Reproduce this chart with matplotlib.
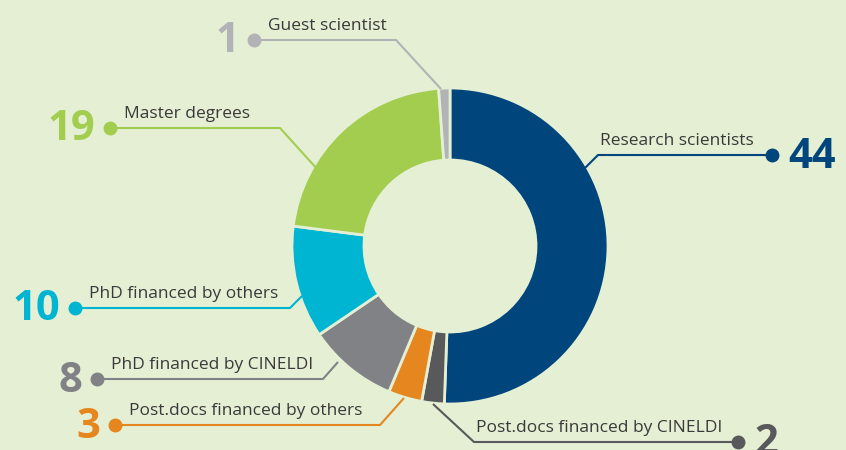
import matplotlib.pyplot as plt

categories = ["Research scientists", "Post.docs financed by CINELDI",
              "Post.docs financed by others", "PhD financed by CINELDI",
              "PhD financed by others", "Master degrees", "Guest scientist"]
counts = [44, 2, 3, 8, 10, 19, 1]
colors = ["#00457c", "#58595b", "#e5861f", "#808285", "#00b5d1", "#a3cd4e", "#b1b3b6"]
bg = "#e4efd4"

# leader layout in pixel coords (y from top): dot, elbow, wedge point, label side
layout = {
    "Research scientists": ((772, 155), (598, 155), (583, 170), "right"),
    "Post.docs financed by CINELDI": ((738, 442), (474, 442), (433, 404), "right"),
    "Post.docs financed by others": ((115, 425), (380, 425), (404, 398), "left"),
    "PhD financed by CINELDI": ((97, 379), (323, 379), (338, 362), "left"),
    "PhD financed by others": ((75, 308), (290, 308), (302, 296), "left"),
    "Master degrees": ((110, 128), (280, 128), (318, 170), "left"),
    "Guest scientist": ((254, 40), (396, 40), (441, 89), "left"),
}

H = 450
fig = plt.figure(figsize=(8.46, 4.5), dpi=100, facecolor=bg)
ax = fig.add_axes([0, 0, 1, 1])

ax.pie(counts, colors=colors, startangle=90, counterclock=False,
       center=(450, H - 246), radius=158,
       wedgeprops=dict(width=72, edgecolor=bg, linewidth=2))
ax.set_xlim(0, 846)
ax.set_ylim(0, H)
ax.set_aspect("equal")
ax.axis("off")

for name, n, c in zip(categories, counts, colors):
    dot, elbow, tip, side = layout[name]
    xs = [dot[0], elbow[0], tip[0]]
    ys = [H - dot[1], H - elbow[1], H - tip[1]]
    ax.plot(xs, ys, color=c, lw=1.5, solid_capstyle="butt", zorder=3)
    ax.plot(dot[0], H - dot[1], "o", color=c, ms=9, zorder=4)
    if side == "left":
        ax.text(dot[0] + 14, H - dot[1] + 6, name, fontsize=12.5, color="#3a3a3a",
                family="Open Sans", ha="left", va="bottom")
        ax.text(dot[0] - 15, H - dot[1] - 2, str(n), fontsize=30, color=c,
                family="Open Sans", weight="bold", ha="right", va="center")
    else:
        ax.text(elbow[0] + 2, H - dot[1] + 6, name, fontsize=12.5, color="#3a3a3a",
                family="Open Sans", ha="left", va="bottom")
        ax.text(dot[0] + 16, H - dot[1] - 2, str(n), fontsize=30, color=c,
                family="Open Sans", weight="bold", ha="left", va="center")

fig.savefig("out.png", dpi=100, facecolor=bg)
